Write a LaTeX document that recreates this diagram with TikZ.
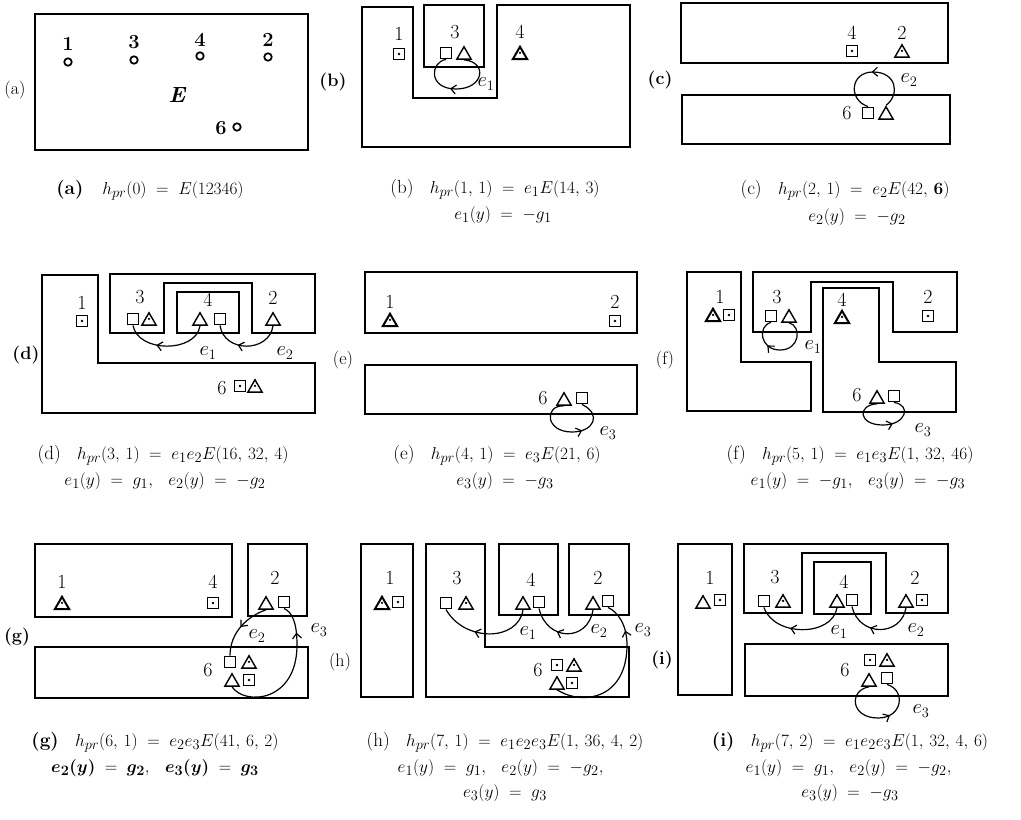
\documentclass[tikz,border=0pt]{standalone}
\usepackage{amsmath}
\usetikzlibrary{shapes.geometric,arrows.meta,decorations.markings}
\newcommand{\cma}{,\,}
\tikzset{
  region/.style={draw, line width=1.7pt},
  lab/.style={inner sep=0pt, font=\fontsize{20}{22}\selectfont},
  blab/.style={inner sep=0pt, font=\fontsize{20}{22}\selectfont\bfseries},
  plab/.style={inner sep=0pt, font=\fontsize{18}{20}\selectfont},
  bplab/.style={inner sep=0pt, font=\fontsize{18}{20}\selectfont\bfseries},
  capt/.style={inner sep=0pt, font=\fontsize{19}{21}\selectfont},
  sqr/.style={draw, rectangle, minimum size=11.5pt, inner sep=0pt, line width=1.4pt},
  dsqr/.style={sqr, path picture={\fill (path picture bounding box.center) circle (1.3pt);}},
  tri/.style={draw, regular polygon, regular polygon sides=3, minimum size=16.5pt, inner sep=0pt, line width=1.4pt},
  dtri/.style={tri, path picture={\fill (path picture bounding box.center) circle (1.3pt);}},
  btri/.style={dtri, line width=2pt},
  ring/.style={draw, circle, minimum size=7.5pt, inner sep=0pt, line width=1.7pt},
  trans/.style={line width=1.2pt, decoration={markings, mark=at position #1 with {\arrow{Straight Barb[length=5pt,width=9pt]}}}, postaction={decorate}},
  trans/.default=0.55
}
\begin{document}
\begin{tikzpicture}[x=1pt, y=-1pt]
\fill[white] (0,0) rectangle (1021,820);
\useasboundingbox (0,0) rectangle (1021,820);

% ---------------- (a)
\node[plab] (pa) at (15,90) {(a)};
\draw[region] (35,14) rectangle (308,150);
\node[blab] (a1) at (68,44) {1}; \node[ring] (ac1) at (68,62) {};
\node[blab] (a3) at (134,42) {3}; \node[ring] (ac3) at (134,60) {};
\node[blab] (a4) at (200,40) {4}; \node[ring] (ac4) at (200,56) {};
\node[blab] (a2) at (268,40) {2}; \node[ring] (ac2) at (268,57) {};
\node[inner sep=0pt, font=\fontsize{22}{24}\selectfont\bfseries\itshape] (aE) at (177,95) {E};
\node[blab] (a6) at (221,128) {6}; \node[ring] (ac6) at (237,127) {};
\node[capt] (ca) at (150,190) {\textbf{(a)}\quad $h_{pr}(0) \;=\; E(12346)$};

% ---------------- (b)
\node[bplab] (pb) at (333,82) {(b)};
\draw[region] (362,7) -- (413,7) -- (413,98) -- (497,98) -- (497,5) -- (630,5) -- (630,147) -- (362,147) -- cycle;
\draw[region] (424,5) rectangle (484,67);
\node[lab] (b1) at (399,34) {1}; \node[dsqr] (b1s) at (399,54) {};
\node[lab] (b3) at (455,32) {3}; \node[sqr] (b3s) at (446,53) {}; \node[tri] (b3t) at (464,55) {};
\node[lab] (b4) at (520,32) {4}; \node[btri] (b4t) at (520,55) {};
\draw[trans=0.58] (b3t.south) .. controls (488,62) and (484,89) .. (456,89) .. controls (428,89) and (430,62) .. (b3s.south);
\node[lab] (be1) at (486,84) {$e_1$};
\node[capt] (cb1) at (495,189) {(b)\;\; $h_{pr}(1\cma 1) \;=\; e_1E(14\cma 3)$};
\node[capt] (cb2) at (503,215) {$e_1(y) \;=\; -g_1$};

% ---------------- (c)
\node[bplab] (pc) at (660,80) {(c)};
\draw[region] (681,3) rectangle (948,63);
\draw[region] (682,95) rectangle (950,144);
\node[lab] (c4) at (852,33) {4}; \node[dsqr] (c4s) at (852,51) {};
\node[lab] (c2) at (902,33) {2}; \node[dtri] (c2t) at (902,53) {};
\node[lab] (c6) at (847,113) {6}; \node[sqr] (c6s) at (868,113) {}; \node[tri] (c6t) at (886,115) {};
\draw[trans=0.5] (c6t.north) .. controls (900,95) and (897,72) .. (873,72) .. controls (850,72) and (848,100) .. (c6s.north);
\node[lab] (ce2) at (909,80) {$e_2$};
\node[capt] (cc1) at (845,190) {(c)\;\; $h_{pr}(2\cma 1) \;=\; e_2E(42\cma \mathbf{6})$};
\node[capt] (cc2) at (857,217) {$e_2(y) \;=\; -g_2$};

% ---------------- (d)
\node[bplab] (pd) at (26,355) {(d)};
\draw[region] (42,275) -- (98,275) -- (98,363) -- (315,363) -- (315,413) -- (42,413) -- cycle;
\draw[region] (110,274) -- (315,274) -- (315,333) -- (252,333) -- (252,283) -- (164,283) -- (164,333) -- (110,333) -- cycle;
\draw[region] (177,292) rectangle (239,333);
\node[lab] (d1) at (82,303) {1}; \node[dsqr] (d1s) at (82,321) {};
\node[lab] (d3) at (140,297) {3}; \node[sqr] (d3s) at (133,319) {}; \node[dtri] (d3t) at (149,321) {};
\node[lab] (d4) at (208,300) {4}; \node[tri] (d4t) at (200,321) {}; \node[sqr] (d4s) at (220,319) {};
\node[lab] (d2) at (273,298) {2}; \node[tri] (d2t) at (273,321) {};
\node[lab] (d6) at (222,388) {6}; \node[dsqr] (d6s) at (240,386) {}; \node[dtri] (d6t) at (255,388) {};
\draw[trans=0.62] (d4t.south) .. controls (196,353) and (138,353) .. (d3s.south);
\draw[trans=0.62] (d2t.south) .. controls (269,353) and (224,353) .. (d4s.south);
\node[lab] (de1) at (208,353) {$e_1$};
\node[lab] (de2) at (285,353) {$e_2$};
\node[capt] (cd1) at (163,455) {(d)\;\; $h_{pr}(3\cma 1) \;=\; e_1e_2E(16\cma 32\cma 4)$};
\node[capt] (cd2) at (165,481) {$e_1(y) \;=\; g_1\cma\;\; e_2(y) \;=\; -g_2$};

% ---------------- (e)
\node[plab] (pe) at (343,360) {(e)};
\draw[region] (365,272) rectangle (637,333);
\draw[region] (365,365) rectangle (637,414);
\node[lab] (e1) at (390,302) {1}; \node[btri] (e1t) at (390,322) {};
\node[lab] (e2) at (615,302) {2}; \node[dsqr] (e2s) at (615,321) {};
\node[lab] (e6) at (543,398) {6}; \node[tri] (e6t) at (564,401) {}; \node[sqr] (e6s) at (582,398) {};
\draw[trans=0.62] (e6t.south) .. controls (544,405) and (545,432) .. (572,432) .. controls (594,432) and (602,414) .. (e6s.south);
\node[lab] (ee3) at (608,433) {$e_3$};
\node[capt] (ce1) at (497,455) {(e)\;\; $h_{pr}(4\cma 1) \;=\; e_3E(21\cma 6)$};
\node[capt] (ce2) at (505,481) {$e_3(y) \;=\; -g_3$};

% ---------------- (f)
\node[plab] (pf) at (665,360) {(f)};
\draw[region] (687,272) -- (741,272) -- (741,362) -- (811,362) -- (811,411) -- (687,411) -- cycle;
\draw[region] (753,272) -- (957,272) -- (957,332) -- (893,332) -- (893,282) -- (811,282) -- (811,332) -- (753,332) -- cycle;
\draw[region] (823,288) -- (879,288) -- (879,362) -- (956,362) -- (956,412) -- (823,412) -- cycle;
\node[lab] (f1) at (720,297) {1}; \node[btri] (f1t) at (713,317) {}; \node[dsqr] (f1s) at (729,315) {};
\node[lab] (f3) at (777,297) {3}; \node[sqr] (f3s) at (771,316) {}; \node[tri] (f3t) at (789,318) {};
\node[lab] (f4) at (842,300) {4}; \node[btri] (f4t) at (842,319) {};
\node[lab] (f2) at (928,297) {2}; \node[dsqr] (f2s) at (928,316) {};
\node[lab] (f6) at (857,395) {6}; \node[tri] (f6t) at (877,399) {}; \node[sqr] (f6s) at (894,396) {};
\draw[trans=0.66] (f3t.south) .. controls (802,326) and (800,350) .. (780,350) .. controls (760,350) and (757,326) .. (f3s.south);
\draw[trans=0.62] (f6t.south) .. controls (857,405) and (858,425) .. (883,425) .. controls (906,425) and (912,405) .. (f6s.south);
\node[lab] (fe1) at (813,347) {$e_1$};
\node[lab] (fe3) at (923,430) {$e_3$};
\node[capt] (cf1) at (850,455) {(f)\;\; $h_{pr}(5\cma 1) \;=\; e_1e_3E(1\cma 32\cma 46)$};
\node[capt] (cf2) at (858,481) {$e_1(y) \;=\; -g_1\cma\;\; e_3(y) \;=\; -g_3$};

% ---------------- (g)
\node[bplab] (pg) at (17,637) {(g)};
\draw[region] (35,544) rectangle (232,617);
\draw[region] (248,544) rectangle (307,616);
\draw[region] (35,647) rectangle (308,698);
\node[lab] (g1) at (62,582) {1}; \node[btri] (g1t) at (62,605) {};
\node[lab] (g4) at (213,582) {4}; \node[dsqr] (g4s) at (213,603) {};
\node[lab] (g2) at (275,578) {2}; \node[tri] (g2t) at (266,605) {}; \node[sqr] (g2s) at (284,602) {};
\node[lab] (g6) at (208,670) {6};
\node[sqr] (g6s1) at (230,662) {}; \node[dtri] (g6t1) at (249,664) {};
\node[tri] (g6t2) at (232,682) {}; \node[dsqr] (g6s2) at (249,680) {};
\draw[trans=0.5] (g2t.south) .. controls (248,616) and (230,632) .. (g6s1.north);
\draw[trans=0.8] (g6t2.south) .. controls (245,706) and (297,702) .. (297,645) .. controls (297,622) and (292,612) .. (g2s.south);
\node[lab] (ge2) at (257,636) {$e_2$};
\node[lab] (ge3) at (319,630) {$e_3$};
\node[capt] (cg1) at (155,742) {\textbf{(g)}\;\; $h_{pr}(6\cma 1) \;=\; e_2e_3E(41\cma 6\cma 2)$};
\node[capt] (cg2) at (155,768) {$\boldsymbol{e_2(y)} \;=\; \boldsymbol{g_2}\cma\;\; \boldsymbol{e_3(y)} \;=\; \boldsymbol{g_3}$};

% ---------------- (h)
\node[plab] (ph) at (340,662) {(h)};
\draw[region] (361,544) rectangle (413,697);
\draw[region] (426,544) -- (485,544) -- (485,647) -- (629,647) -- (629,697) -- (426,697) -- cycle;
\draw[region] (499,544) rectangle (558,615);
\draw[region] (569,544) rectangle (629,615);
\node[lab] (h1) at (390,578) {1}; \node[btri] (h1t) at (382,605) {}; \node[dsqr] (h1s) at (398,602) {};
\node[lab] (h3) at (457,578) {3}; \node[sqr] (h3s) at (446,603) {}; \node[dtri] (h3t) at (466,605) {};
\node[lab] (h4) at (531,580) {4}; \node[tri] (h4t) at (523,605) {}; \node[sqr] (h4s) at (539,602) {};
\node[lab] (h2) at (598,578) {2}; \node[tri] (h2t) at (593,605) {}; \node[sqr] (h2s) at (608,601) {};
\node[lab] (h6) at (538,670) {6};
\node[dsqr] (h6s1) at (557,665) {}; \node[dtri] (h6t1) at (574,667) {};
\node[tri] (h6t2) at (557,685) {}; \node[dsqr] (h6s2) at (572,683) {};
\draw[trans=0.62] (h4t.south) .. controls (518,642) and (464,642) .. (h3s.south);
\draw[trans=0.62] (h2t.south) .. controls (588,642) and (547,642) .. (h4s.south);
\draw[trans=0.8] (h6t2.south) .. controls (585,707) and (627,697) .. (627,645) .. controls (627,625) and (618,612) .. (h2s.south);
\node[lab] (he1) at (528,633) {$e_1$};
\node[lab] (he2) at (599,631) {$e_2$};
\node[lab] (he3) at (643,630) {$e_3$};
\node[capt] (ch1) at (505,742) {(h)\;\; $h_{pr}(7\cma 1) \;=\; e_1e_2e_3E(1\cma 36\cma 4\cma 2)$};
\node[capt] (ch2) at (502,768) {$e_1(y) \;=\; g_1\cma\;\; e_2(y) \;=\; -g_2\cma$};
\node[capt] (ch3) at (505,793) {$e_3(y) \;=\; g_3$};

% ---------------- (i)
\node[bplab] (pni) at (662,660) {(i)};
\draw[region] (678,544) rectangle (732,695);
\draw[region] (744,544) -- (948,544) -- (948,613) -- (886,613) -- (886,553) -- (802,553) -- (802,613) -- (744,613) -- cycle;
\draw[region] (814,562) rectangle (871,614);
\draw[region] (745,644) rectangle (948,696);
\node[lab] (i1) at (710,578) {1}; \node[tri] (i1t) at (703,604) {}; \node[dsqr] (i1s) at (720,600) {};
\node[lab] (i3) at (775,577) {3}; \node[sqr] (i3s) at (764,601) {}; \node[dtri] (i3t) at (783,603) {};
\node[lab] (i4) at (844,582) {4}; \node[tri] (i4t) at (837,603) {}; \node[sqr] (i4s) at (852,600) {};
\node[lab] (i2) at (915,578) {2}; \node[tri] (i2t) at (906,603) {}; \node[dsqr] (i2s) at (922,600) {};
\node[lab] (i6) at (845,670) {6};
\node[dsqr] (i6s1) at (870,660) {}; \node[dtri] (i6t1) at (887,662) {};
\node[tri] (i6t2) at (869,682) {}; \node[sqr] (i6s2) at (887,678) {};
\draw[trans=0.62] (i4t.south) .. controls (832,637) and (774,637) .. (i3s.south);
\draw[trans=0.62] (i2t.south) .. controls (901,637) and (859,637) .. (i4s.south);
\draw[trans=0.62] (i6t2.south) .. controls (849,690) and (850,718) .. (878,718) .. controls (903,718) and (906,690) .. (i6s2.south);
\node[lab] (ie1) at (839,632) {$e_1$};
\node[lab] (ie2) at (916,630) {$e_2$};
\node[lab] (ie3) at (921,711) {$e_3$};
\node[capt] (ci1) at (850,742) {\textbf{(i)}\;\; $h_{pr}(7\cma 2) \;=\; e_1e_2e_3E(1\cma 32\cma 4\cma 6)$};
\node[capt] (ci2) at (850,768) {$e_1(y) \;=\; g_1\cma\;\; e_2(y) \;=\; -g_2\cma$};
\node[capt] (ci3) at (850,793) {$e_3(y) \;=\; -g_3$};
\end{tikzpicture}
\end{document}
